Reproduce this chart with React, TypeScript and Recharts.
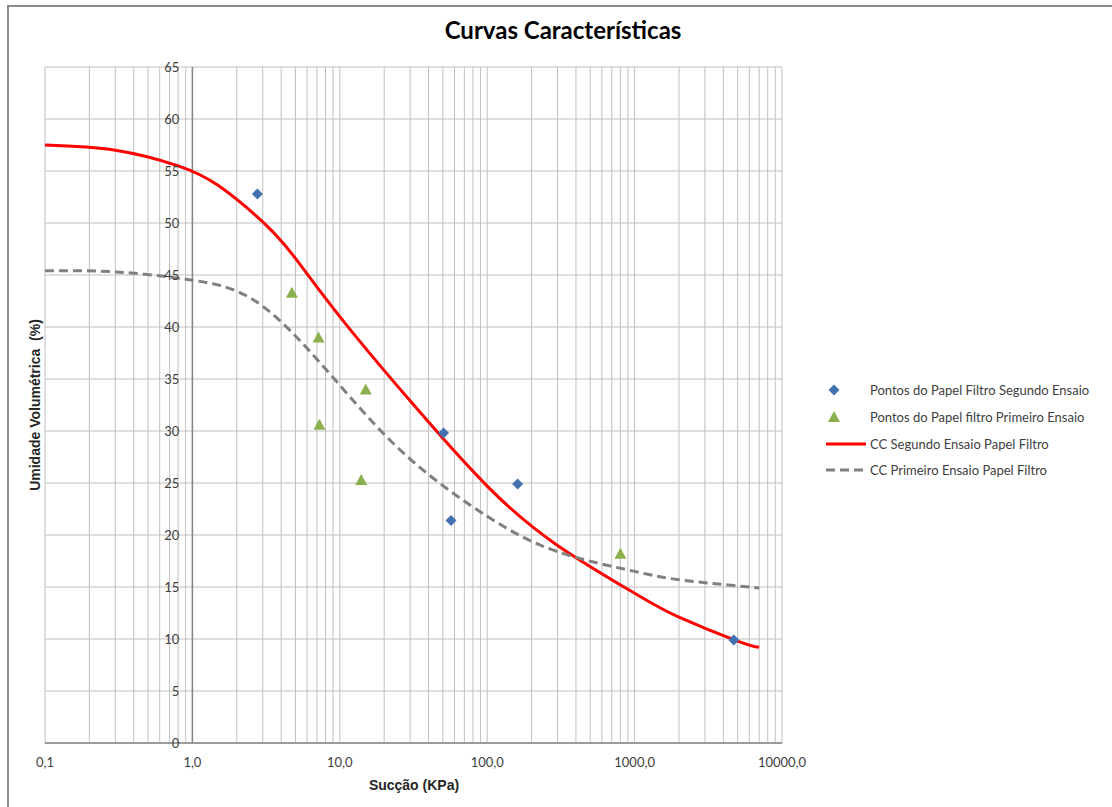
import {
  ComposedChart,
  CartesianGrid,
  Line,
  ReferenceLine,
  Scatter,
  XAxis,
  YAxis
} from 'recharts';

// pontos medidos (papel filtro)
const segundoSuccao = [2.76, 50.6, 56.8, 160.8, 4710];
const segundoUmidade = [52.8, 29.8, 21.4, 24.9, 9.9];

const primeiroSuccao = [4.73, 7.17, 7.28, 15.0, 13.97, 801];
const primeiroUmidade = [43.3, 39.0, 30.6, 34.0, 25.3, 18.2];

// curvas características ajustadas
const ccSegundoSuccao = [0.1, 0.3, 0.8, 1.5, 3, 5, 10, 30, 100, 300, 1000, 2000, 5000, 7000];
const ccSegundoUmidade = [57.5, 57.0, 55.5, 53.6, 50.1, 46.6, 41.0, 32.9, 24.7, 19.0, 14.4, 12.1, 9.8, 9.2];

const ccPrimeiroSuccao = [0.1, 0.3, 1, 3, 10, 30, 100, 300, 1000, 2000, 7000];
const ccPrimeiroUmidade = [45.4, 45.3, 44.5, 42.0, 34.4, 27.3, 21.8, 18.4, 16.5, 15.7, 14.9];

const seriesNames = [
  'Pontos do Papel Filtro Segundo Ensaio',
  'Pontos do Papel filtro Primeiro Ensaio',
  'CC Segundo Ensaio Papel Filtro',
  'CC Primeiro Ensaio Papel Filtro'
];

const xMajorTicks = [0.1, 1, 10, 100, 1000, 10000];
const yTicks = [0, 5, 10, 15, 20, 25, 30, 35, 40, 45, 50, 55, 60, 65];

const toPoints = (xs: number[], ys: number[]) => xs.map((x, i) => ({ x, y: ys[i] }));

const segundoPts = toPoints(segundoSuccao, segundoUmidade);
const primeiroPts = toPoints(primeiroSuccao, primeiroUmidade);
const ccSegundoPts = toPoints(ccSegundoSuccao, ccSegundoUmidade);
const ccPrimeiroPts = toPoints(ccPrimeiroSuccao, ccPrimeiroUmidade);

// grade logarítmica: 1..9 vezes cada década
const xGridTicks = [
  ...xMajorTicks.slice(0, -1).flatMap((d) => [1, 2, 3, 4, 5, 6, 7, 8, 9].map((m) => d * m)),
  xMajorTicks[xMajorTicks.length - 1]
];

const BLUE = '#4472b0';
const GREEN = '#8db04f';
const RED = '#ff0000';
const GRAY = '#808080';

const plotLeft = 45;
const plotWidth = 737;
const labelFont = 'Lato, "Open Sans", sans-serif';
const axisTitleFont = '"Liberation Sans", Arial, sans-serif';

const Diamond = ({ cx, cy }: any) => (
  <path d={`M${cx},${cy - 5.5} L${cx + 5.5},${cy} L${cx},${cy + 5.5} L${cx - 5.5},${cy} Z`} fill={BLUE} />
);

const Triangle = ({ cx, cy }: any) => (
  <path d={`M${cx},${cy - 6} L${cx + 6},${cy + 5} L${cx - 6},${cy + 5} Z`} fill={GREEN} />
);

const XTick = ({ x, y, payload }: any) => {
  if (!xMajorTicks.includes(payload.value)) return <g />;
  return (
    <text x={x} y={y + 24} textAnchor="middle" fontSize={13} fill="#404040" fontFamily={labelFont}>
      {payload.value.toFixed(1).replace('.', ',')}
    </text>
  );
};

// eixo vertical cruza em x = 1 (uma década a partir de 0,1)
const YTick = ({ y, payload }: any) => (
  <text
    x={plotLeft + plotWidth / 5 - 13}
    y={y + 5}
    textAnchor="end"
    fontSize={13}
    fill="#404040"
    fontFamily={labelFont}
  >
    {payload.value}
  </text>
);

const legendIcons = [
  <path key="a" d="M12,4.5 L17.5,10 L12,15.5 L6.5,10 Z" fill={BLUE} />,
  <path key="b" d="M12,4 L18,15 L6,15 Z" fill={GREEN} />,
  <line key="c" x1={4} y1={10} x2={44} y2={10} stroke={RED} strokeWidth={3} />,
  <line key="d" x1={4} y1={10} x2={44} y2={10} stroke={GRAY} strokeWidth={3} strokeDasharray="9 5" />
];

export default function App() {
  return (
    <div style={{ position: 'absolute', left: 0, top: 0, width: 1112, height: 807, background: '#fff' }}>
      <div
        style={{
          position: 'absolute',
          left: 7,
          top: 5,
          width: 1105,
          height: 802,
          borderLeft: '2px solid #8c8c8c',
          borderTop: '2px solid #8c8c8c'
        }}
      />
      <div
        style={{
          position: 'absolute',
          left: 563,
          top: 15,
          transform: 'translateX(-50%)',
          fontFamily: labelFont,
          fontWeight: 700,
          fontSize: 24,
          color: '#000',
          whiteSpace: 'nowrap'
        }}
      >
        Curvas Características
      </div>
      <div
        style={{
          position: 'absolute',
          left: 414,
          top: 777,
          transform: 'translateX(-50%)',
          fontFamily: axisTitleFont,
          fontWeight: 700,
          fontSize: 14,
          color: '#262626',
          whiteSpace: 'nowrap'
        }}
      >
        Sucção (KPa)
      </div>
      <div
        style={{
          position: 'absolute',
          left: 35,
          top: 405,
          transform: 'translate(-50%, -50%) rotate(-90deg)',
          fontFamily: axisTitleFont,
          fontWeight: 700,
          fontSize: 14,
          color: '#262626',
          whiteSpace: 'pre'
        }}
      >
        Umidade Volumétrica  (%)
      </div>
      <div
        style={{
          position: 'absolute',
          left: 822,
          top: 377,
          fontFamily: labelFont,
          fontSize: 13,
          color: '#404040'
        }}
      >
        {seriesNames.map((name, i) => (
          <div key={name} style={{ display: 'flex', alignItems: 'center', height: 26.7 }}>
            <svg width={48} height={20} style={{ flex: 'none' }}>
              {legendIcons[i]}
            </svg>
            <span style={{ whiteSpace: 'nowrap' }}>{name}</span>
          </div>
        ))}
      </div>
      <div style={{ position: 'absolute', left: 0, top: 0 }}>
        <ComposedChart width={1112} height={807} margin={{ top: 67, right: 330, bottom: 34, left: 0 }}>
          <CartesianGrid stroke="#c0c0c0" strokeWidth={1} />
          <XAxis
            dataKey="x"
            type="number"
            scale="log"
            domain={[0.1, 10000]}
            allowDataOverflow
            ticks={xGridTicks}
            interval={0}
            height={30}
            tickLine={false}
            tickSize={0}
            tickMargin={0}
            tick={<XTick />}
            axisLine={{ stroke: '#868686', strokeWidth: 1.5 }}
          />
          <YAxis
            type="number"
            domain={[0, 65]}
            ticks={yTicks}
            interval={0}
            width={plotLeft}
            tickLine={false}
            tickSize={0}
            tickMargin={0}
            axisLine={false}
            tick={(props: any) => <YTick {...props} />}
          />
          <ReferenceLine x={1} stroke="#868686" strokeWidth={1.5} />
          <Scatter
            name={seriesNames[0]}
            data={segundoPts}
            dataKey="y"
            fill={BLUE}
            shape={<Diamond />}
            isAnimationActive={false}
          />
          <Scatter
            name={seriesNames[1]}
            data={primeiroPts}
            dataKey="y"
            fill={GREEN}
            shape={<Triangle />}
            isAnimationActive={false}
          />
          <Line
            name={seriesNames[2]}
            data={ccSegundoPts}
            dataKey="y"
            type="natural"
            stroke={RED}
            strokeWidth={3}
            dot={false}
            activeDot={false}
            isAnimationActive={false}
          />
          <Line
            name={seriesNames[3]}
            data={ccPrimeiroPts}
            dataKey="y"
            type="natural"
            stroke={GRAY}
            strokeWidth={3}
            strokeDasharray="9 5"
            dot={false}
            activeDot={false}
            isAnimationActive={false}
          />
        </ComposedChart>
      </div>
    </div>
  );
}
